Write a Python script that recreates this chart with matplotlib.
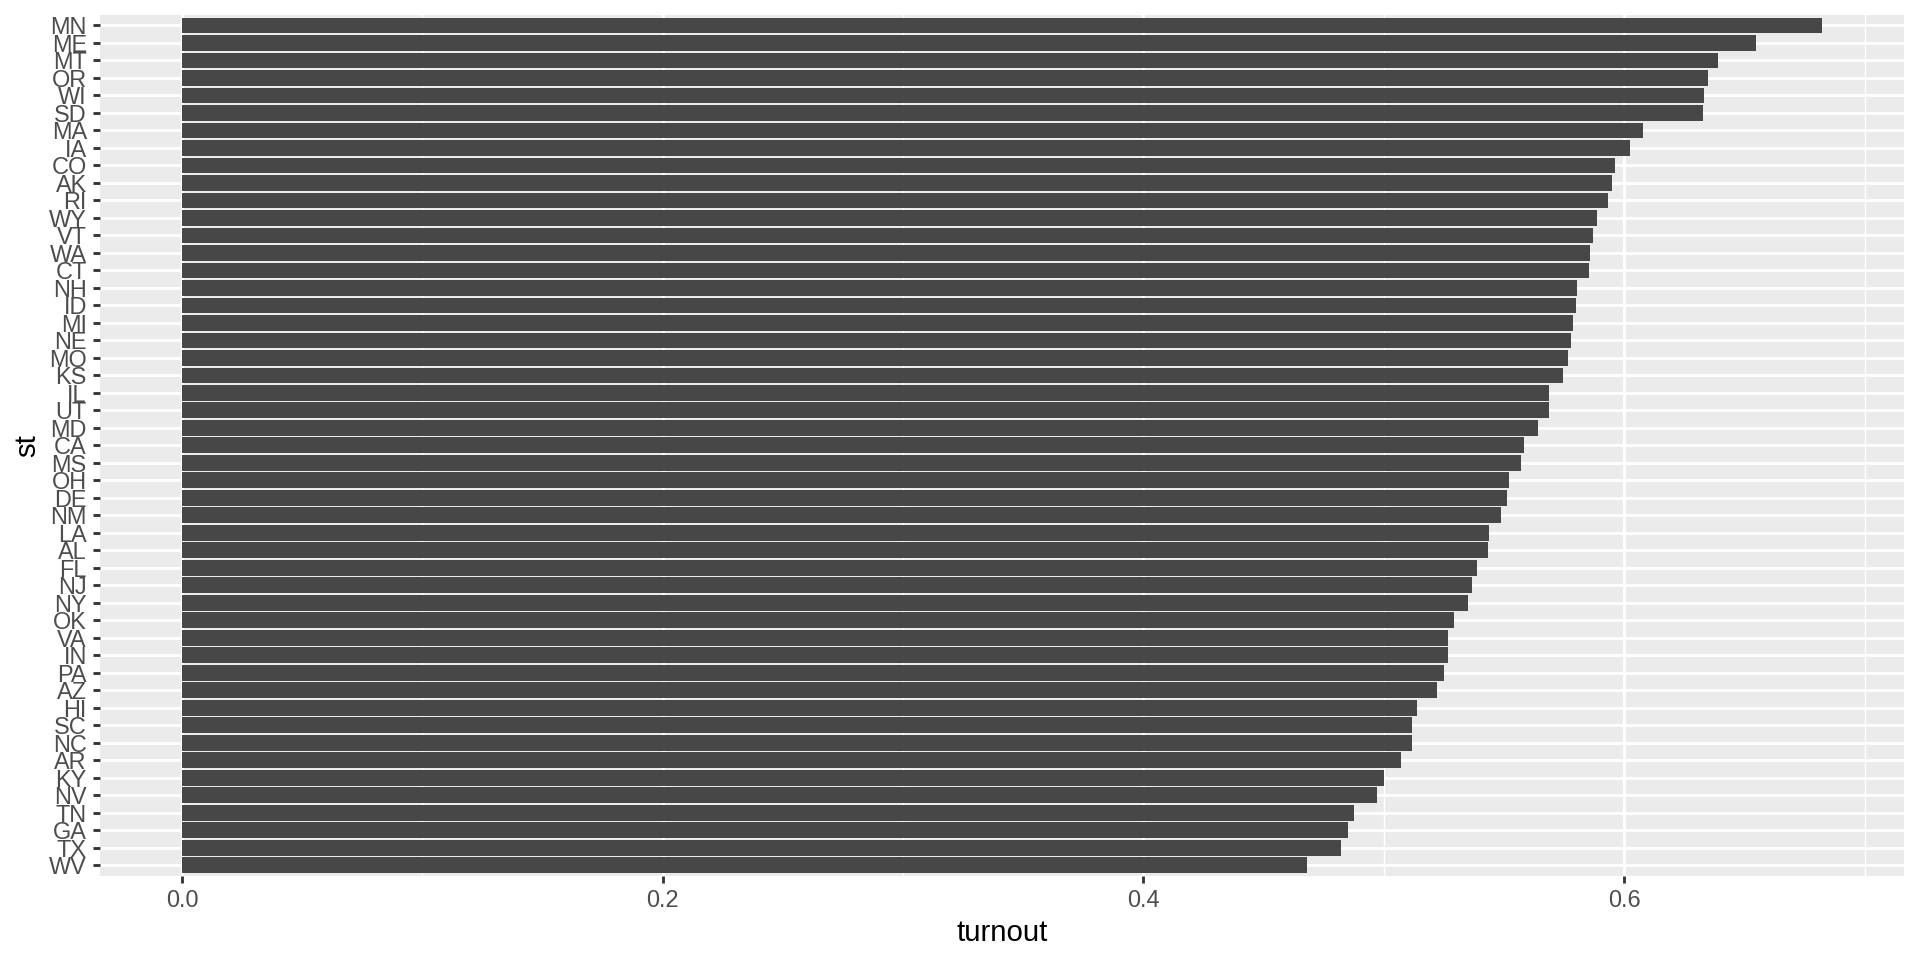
import matplotlib
matplotlib.use("Agg")
import matplotlib.pyplot as plt
import numpy as np

states = ["MN","ME","MT","OR","WI","SD","MA","IA","CO","AK","RI","WY","VT","WA","CT","NH","ID","MI",
          "NE","MO","KS","IL","UT","MD","CA","MS","OH","DE","NM","LA","AL","FL","NJ","NY","OK","VA",
          "IN","PA","AZ","HI","SC","NC","AR","KY","NV","TN","GA","TX","WV"]
turnout = [0.6823,0.6549,0.6391,0.6348,0.6332,0.6329,0.6079,0.6025,0.5962,0.5951,0.5933,0.5888,
           0.5872,0.5859,0.5854,0.5804,0.5801,0.5788,0.5779,0.5766,0.5745,0.5687,0.5687,0.5642,
           0.5584,0.5571,0.5521,0.5513,0.5488,0.5438,0.5434,0.5389,0.5368,0.5352,0.5294,0.5269,
           0.5265,0.5252,0.5223,0.5140,0.5119,0.5119,0.5073,0.4999,0.4970,0.4878,0.4853,0.4820,0.4679]
xticks = [0.0, 0.2, 0.4, 0.6]
xticklabels = ["0.0", "0.2", "0.4", "0.6"]

plt.rcParams['font.family'] = ['Liberation Sans', 'DejaVu Sans']

fig = plt.figure(figsize=(10, 5), dpi=192)
ax = fig.add_axes([100/1920, 1-875.7/960, (1904-100)/1920, (875.7-15)/960])

n = len(states)
ypos = np.arange(n)[::-1]
ax.set_facecolor("#EBEBEB")
ax.barh(ypos, turnout, height=0.9, color="#474747", zorder=3)

xmax = max(turnout)
ax.set_xlim(-0.05*xmax, xmax*1.05)
ax.set_ylim(-0.6, n-0.4)

ax.set_xticks(xticks)
ax.set_xticklabels(xticklabels)
ax.set_xticks([0.1, 0.3, 0.5, 0.7], minor=True)
ax.set_yticks(ypos)
ax.set_yticklabels(states)

ax.grid(True, which="major", color="white", linewidth=1.07, zorder=1)
ax.grid(True, which="minor", axis="x", color="white", linewidth=0.53, zorder=1)
ax.set_axisbelow(True)
for s in ax.spines.values():
    s.set_visible(False)

ax.tick_params(axis="both", which="major", length=2.75, width=1.07, color="#333333",
               labelsize=8.8, labelcolor="#4D4D4D", pad=2.2)
ax.tick_params(axis="both", which="minor", length=0)

ax.set_xlabel("turnout", fontsize=11, color="black", labelpad=2.75)
ax.set_ylabel("st", fontsize=11, color="black", labelpad=2.75)

fig.savefig("out.png", dpi=192, facecolor="white")
